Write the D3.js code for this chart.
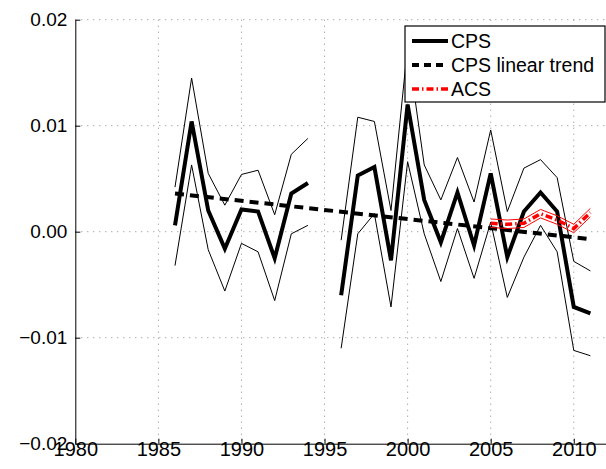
<!DOCTYPE html>
<html><head><meta charset="utf-8">
<script src="https://cdn.jsdelivr.net/npm/d3@7"></script>
<style>body{margin:0;background:#fff}text{font-family:"Liberation Sans",Arial,sans-serif}</style>
</head><body><svg id="c" width="606" height="469"></svg>
<script>
const years1 = [1986,1987,1988,1989,1990,1991,1992,1993,1994];
const cps1 = [0.0006,0.0104,0.0020,-0.0016,0.0021,0.0019,-0.0025,0.0036,0.0046];
const up1 = [0.0042,0.0145,0.0055,0.0025,0.0054,0.0058,0.0016,0.0073,0.0088];
const lo1 = [-0.0032,0.0063,-0.0017,-0.0056,-0.0011,-0.0019,-0.0065,-0.0002,0.0006];
const years2 = [1996,1997,1998,1999,2000,2001,2002,2003,2004,2005,2006,2007,2008,2009,2010,2011];
const cps2 = [-0.0060,0.0053,0.0061,-0.0027,0.0120,0.0030,-0.0010,0.0037,-0.0013,0.0055,-0.0024,0.0019,0.0037,0.0019,-0.0071,-0.0077];
const up2 = [-0.0008,0.0108,0.0104,0.0020,0.0175,0.0063,0.0030,0.0070,0.0028,0.0096,0.0019,0.0060,0.0068,0.0051,-0.0028,-0.0037];
const lo2 = [-0.0110,-0.0002,0.0017,-0.0071,0.0066,-0.0002,-0.0047,0.0003,-0.0044,0.0009,-0.0062,-0.0024,0.0006,-0.0019,-0.0112,-0.0117];
const trendYears = [1986,2011];
const trendVals = [0.0036,-0.0007];
const acsYears = [2005,2006,2007,2008,2009,2010,2011];
const acs = [0.0008,0.0007,0.0008,0.0017,0.0011,0.0003,0.0018];
const acsUp = [0.0012,0.0011,0.0012,0.0021,0.0015,0.0007,0.0022];
const acsLo = [0.0004,0.0003,0.0004,0.0013,0.0007,-0.0001,0.0014];
const xTicks = [1980,1985,1990,1995,2000,2005,2010];
const yTicks = [-0.02,-0.01,0,0.01,0.02];
const yLabels = ["\u22120.02","\u22120.01","0.00","0.01","0.02"];

const svg = d3.select("#c");
const x = d3.scaleLinear().domain([1980,2012]).range([75.3,607]);
const y = d3.scaleLinear().domain([-0.02,0.02]).range([443.7,19.7]);
const L = 75.3, R = 607, T = 19.7, B = 443.7;

const grid = svg.append("g").attr("stroke","#888").attr("stroke-width",1).attr("stroke-dasharray","1,5");
xTicks.slice(1).forEach(t=>grid.append("line").attr("x1",x(t)).attr("x2",x(t)).attr("y1",T).attr("y2",B));
yTicks.slice(1).forEach(t=>grid.append("line").attr("x1",L).attr("x2",R).attr("y1",y(t)).attr("y2",y(t)));

const xa = svg.append("g").attr("transform",`translate(0,${B})`)
  .call(d3.axisBottom(x).tickValues(xTicks).tickFormat(d3.format("d")).tickSizeInner(-5).tickSizeOuter(0).tickPadding(2));
const ya = svg.append("g").attr("transform",`translate(${L},0)`)
  .call(d3.axisLeft(y).tickValues(yTicks).tickFormat((d,i)=>yLabels[i]).tickSizeInner(-5).tickSizeOuter(0).tickPadding(8));
[xa,ya].forEach(a=>{a.selectAll("text").attr("font-size",19).attr("fill","#000");a.selectAll("path,line").attr("stroke","#000");});
xa.selectAll("text").attr("font-size",20).attr("dy","0.5em");

const line = (xs,ys)=>d3.line().x((d,i)=>x(xs[i])).y(d=>y(d))(ys);
const draw=(xs,ys,st)=>{const p=svg.append("path").attr("d",line(xs,ys)).attr("fill","none");Object.entries(st).forEach(([k,v])=>p.attr(k,v));};
[[years1,up1],[years1,lo1],[years2,up2],[years2,lo2]].forEach(([a,b])=>draw(a,b,{stroke:"#000","stroke-width":1}));
draw(years1,cps1,{stroke:"#000","stroke-width":4,"stroke-linejoin":"miter"});
draw(years2,cps2,{stroke:"#000","stroke-width":4});
draw(trendYears,trendVals,{stroke:"#000","stroke-width":4,"stroke-dasharray":"9,6"});
draw(acsYears,acsUp,{stroke:"#f00","stroke-width":1});
draw(acsYears,acsLo,{stroke:"#f00","stroke-width":1});
draw(acsYears,acs,{stroke:"#f00","stroke-width":3.5,"stroke-dasharray":"7,3,1.5,3"});

const lg = svg.append("g");
lg.append("rect").attr("x",405).attr("y",26).attr("width",200).attr("height",76).attr("fill","#fff").attr("stroke","#000").attr("stroke-width",1.2);
const items=[["CPS",{stroke:"#000","stroke-width":4}],["CPS linear trend",{stroke:"#000","stroke-width":4,"stroke-dasharray":"7,5"}],["ACS",{stroke:"#f00","stroke-width":3.5,"stroke-dasharray":"7,3,1.5,3"}]];
items.forEach(([t,st],i)=>{const yy=41+i*24;
  const l=lg.append("line").attr("x1",412).attr("x2",448).attr("y1",yy).attr("y2",yy);
  Object.entries(st).forEach(([k,v])=>l.attr(k,v));
  lg.append("text").attr("x",451).attr("y",yy+7).attr("font-size",19.5).text(t);});
</script></body></html>
